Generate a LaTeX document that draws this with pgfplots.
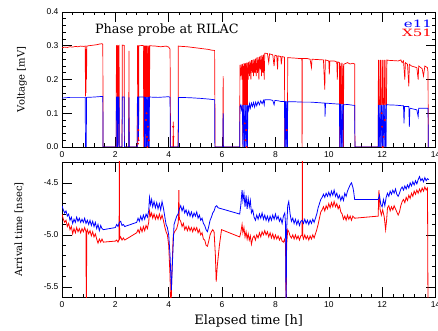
\documentclass[border=0pt]{standalone}
\usepackage{pgfplots}
\usepackage{pgfplotstable}
\pgfplotsset{compat=1.18}
\usepackage{fontspec}
\setmainfont{Liberation Sans}
\newfontfamily\cour{DejaVu Serif}

\pgfplotstableread{
t v
0 0.294
0.1 0.296
0.2 0.295
0.3 0.297
0.4 0.296
0.5 0.298
0.6 0.297
0.7 0.299
0.8 0.298
0.87 0.299
0.88 0.15
0.89 0.26
0.90 0.16
0.91 0.29
0.92 0.20
0.93 0.299
1.0 0.300
1.1 0.301
1.2 0.302
1.3 0.303
1.4 0.305
1.5 0.306
1.53 0.304
1.54 0
2.03 0
2.04 0.300
2.07 0.301
2.08 0
2.10 0
2.11 0.299
2.14 0.301
2.15 0
2.25 0
2.26 0.302
2.33 0.301
2.34 0
2.50 0
2.51 0.285
2.52 0
2.82 0
2.83 0.300
2.86 0.300
2.87 0.02
2.88 0.300
3.05 0.301
3.07 0.0
3.09 0.300
3.11 0.0
3.13 0.300
3.15 0.05
3.17 0.300
3.19 0.0
3.21 0.300
3.23 0.02
3.25 0.300
3.27 0.0
3.29 0.300
3.5 0.299
3.7 0.297
3.9 0.299
4.0 0.296
4.05 0.290
4.07 0
4.16 0
4.17 0.075
4.18 0
4.35 0
4.36 0.299
4.5 0.298
4.7 0.297
4.9 0.295
5.1 0.293
5.3 0.291
5.5 0.289
5.6 0.287
5.72 0.286
5.74 0
6.03 0
6.04 0.21
6.05 0
6.66 0
6.67 0.243
6.70 0.21
6.72 0.245
6.75 0.20
6.77 0.246
6.78 0
6.80 0.24
6.82 0
6.84 0.247
6.86 0
6.88 0.248
6.90 0
6.92 0.25
6.94 0
6.96 0.25
6.98 0.20
7.00 0.252
7.03 0.21
7.05 0.255
7.08 0.20
7.10 0.257
7.13 0.22
7.15 0.258
7.18 0.21
7.20 0.260
7.23 0.22
7.25 0.262
7.28 0.21
7.30 0.265
7.33 0.22
7.35 0.266
7.38 0.20
7.40 0.268
7.43 0.23
7.45 0.270
7.48 0.21
7.50 0.272
7.53 0.22
7.55 0.274
7.58 0.20
7.60 0.278
7.70 0.277
7.75 0.25
7.78 0.276
7.90 0.273
7.95 0.24
7.98 0.272
8.05 0.270
8.08 0.23
8.10 0.270
8.20 0.268
8.22 0.245
8.25 0.268
8.34 0.266
8.35 0
8.45 0
8.46 0.265
8.60 0.264
8.80 0.263
8.90 0.262
8.99 0.262
9.00 0
9.01 0.262
9.20 0.262
9.30 0.260
9.35 0.235
9.37 0.260
9.60 0.259
9.80 0.258
9.85 0.17
9.87 0.258
10.00 0.255
10.02 0.215
10.04 0.255
10.20 0.255
10.30 0.252
10.32 0.20
10.34 0.252
10.40 0.250
10.41 0
10.44 0.24
10.46 0
10.49 0.25
10.51 0
10.54 0.24
10.55 0
10.56 0.245
10.70 0.250
10.80 0.246
10.90 0.248
10.97 0.246
10.98 0
11.85 0
11.86 0.258
11.90 0
11.94 0.258
11.98 0
12.02 0.258
12.06 0
12.10 0.258
12.14 0
12.18 0.258
12.20 0.257
12.40 0.256
12.60 0.255
12.70 0.258
12.75 0.25
12.80 0.255
12.85 0.20
12.87 0.250
12.95 0.245
13.00 0.18
13.02 0.245
13.10 0.240
13.30 0.235
13.35 0.20
13.37 0.240
13.50 0.232
13.55 0.21
13.60 0.240
13.70 0.235
13.72 0.22
13.73 0
}\redV

\pgfplotstableread{
t v
0 0.145
0.3 0.147
0.6 0.147
0.87 0.147
0.88 0
0.91 0
0.92 0.147
1.2 0.148
1.53 0.150
1.54 0
2.03 0
2.04 0.148
2.07 0.148
2.08 0
2.10 0
2.11 0.148
2.14 0.148
2.15 0
2.25 0
2.26 0.148
2.33 0.148
2.34 0
2.50 0
2.51 0.147
2.52 0
2.82 0
2.83 0.148
2.86 0.148
2.87 0.03
2.88 0.148
3.08 0.148
3.09 0
3.12 0.148
3.14 0
3.16 0.148
3.18 0
3.20 0.148
3.22 0
3.24 0.148
3.26 0
3.28 0.148
3.6 0.147
4.0 0.149
4.05 0.147
4.06 0
4.36 0
4.37 0.147
4.8 0.146
5.2 0.144
5.5 0.142
5.72 0.140
5.73 0
6.03 0
6.04 0.10
6.05 0
6.66 0
6.67 0.120
6.70 0.125
6.73 0.110
6.76 0.125
6.78 0
6.81 0.125
6.84 0
6.87 0.125
6.90 0
6.93 0.125
6.95 0
6.97 0.125
7.00 0.110
7.03 0.128
7.06 0.115
7.10 0.130
7.14 0.120
7.18 0.132
7.22 0.118
7.26 0.133
7.30 0.122
7.35 0.135
7.40 0.125
7.45 0.137
7.50 0.128
7.55 0.138
7.58 0.125
7.60 0.140
7.80 0.140
7.90 0.138
7.95 0.125
7.98 0.138
8.10 0.137
8.20 0.135
8.34 0.135
8.35 0
8.38 0.135
8.40 0
8.43 0.135
8.45 0
8.46 0.134
8.70 0.134
9.00 0.133
9.30 0.133
9.50 0.132
9.85 0.130
9.86 0.09
9.88 0.130
10.20 0.128
10.40 0.127
10.41 0
10.44 0.127
10.47 0
10.50 0.126
10.53 0
10.55 0.125
10.70 0.126
10.97 0.123
10.98 0
11.85 0
11.86 0.125
11.89 0
11.92 0.125
11.95 0
11.98 0.125
12.01 0
12.04 0.125
12.07 0
12.10 0.125
12.13 0
12.16 0.125
12.20 0.125
12.50 0.124
12.80 0.122
12.82 0.07
12.84 0.120
13.00 0.120
13.02 0.06
13.04 0.115
13.30 0.110
13.35 0.09
13.37 0.115
13.60 0.115
13.72 0.115
13.73 0
}\blueV

\pgfplotstableread{
t a
0.00 -4.72
0.05 -4.76
0.10 -4.79
0.15 -4.77
0.20 -4.82
0.25 -4.80
0.30 -4.86
0.35 -4.83
0.40 -4.89
0.45 -4.85
0.50 -4.88
0.55 -4.83
0.60 -4.87
0.65 -4.84
0.70 -4.88
0.75 -4.85
0.80 -4.88
0.85 -4.84
0.90 -4.89
0.95 -4.86
1.00 -4.90
1.05 -4.86
1.10 -4.91
1.15 -4.87
1.20 -4.92
1.25 -4.88
1.30 -4.94
1.35 -4.90
1.40 -4.96
1.45 -4.91
1.50 -4.94
1.55 -4.95
2.00 -4.93
2.05 -4.90
2.10 -4.92
2.15 -4.88
2.20 -4.87
2.25 -4.91
2.30 -4.90
2.35 -4.92
2.80 -4.88
2.85 -4.84
2.90 -4.87
2.95 -4.82
3.00 -4.86
3.05 -4.81
3.10 -4.85
3.15 -4.80
3.20 -4.83
3.25 -4.77
3.28 -4.64
3.32 -4.71
3.36 -4.66
3.40 -4.73
3.45 -4.68
3.50 -4.74
3.55 -4.69
3.60 -4.75
3.65 -4.70
3.70 -4.76
3.75 -4.68
3.80 -4.74
3.85 -4.82
3.90 -4.90
3.95 -4.93
4.00 -5.00
4.05 -5.20
4.10 -5.53
4.15 -5.20
4.20 -4.90
4.25 -4.86
4.30 -4.82
4.35 -4.80
4.40 -4.75
4.45 -4.72
4.50 -4.77
4.55 -4.73
4.60 -4.79
4.65 -4.76
4.70 -4.81
4.75 -4.77
4.80 -4.82
4.85 -4.78
4.90 -4.83
4.95 -4.79
5.00 -4.82
5.05 -4.78
5.10 -4.84
5.15 -4.81
5.20 -4.86
5.25 -4.84
5.30 -4.89
5.35 -4.91
5.40 -4.95
5.45 -4.97
5.50 -4.92
5.55 -4.86
5.60 -4.83
5.65 -4.79
5.70 -4.77
5.75 -4.73
5.80 -4.72
5.85 -4.74
6.66 -4.80
6.70 -4.72
6.75 -4.57
6.78 -4.67
6.82 -4.60
6.86 -4.73
6.90 -4.62
6.94 -4.75
6.98 -4.65
7.02 -4.73
7.06 -4.67
7.10 -4.79
7.15 -4.76
7.20 -4.83
7.25 -4.86
7.30 -4.81
7.35 -4.85
7.40 -4.80
7.45 -4.84
7.50 -4.79
7.55 -4.85
7.60 -4.81
7.65 -4.86
7.70 -4.82
7.75 -4.87
7.80 -4.82
7.85 -4.86
7.90 -4.81
7.95 -4.85
8.00 -4.80
8.05 -4.85
8.10 -4.82
8.15 -4.87
8.20 -4.84
8.25 -4.89
8.30 -4.82
8.35 -4.79
8.38 -4.90
8.40 -5.80
8.42 -4.95
8.46 -4.72
8.50 -4.68
8.55 -4.80
8.60 -4.87
8.65 -4.84
8.70 -4.89
8.75 -4.85
8.80 -4.90
8.85 -4.86
8.90 -4.91
8.95 -4.87
9.00 -4.86
9.05 -4.89
9.10 -4.85
9.15 -4.89
9.20 -4.86
9.25 -4.90
9.30 -4.86
9.35 -4.89
9.40 -4.85
9.45 -4.88
9.50 -4.84
9.55 -4.80
9.60 -4.74
9.65 -4.70
9.70 -4.66
9.75 -4.64
9.80 -4.61
9.85 -4.64
9.90 -4.60
9.95 -4.63
10.00 -4.59
10.05 -4.63
10.10 -4.58
10.15 -4.62
10.20 -4.57
10.25 -4.63
10.30 -4.60
10.35 -4.65
10.40 -4.62
10.45 -4.67
10.50 -4.63
10.55 -4.67
10.60 -4.60
10.65 -4.63
10.70 -4.58
10.75 -4.55
10.80 -4.52
10.85 -4.50
10.90 -4.54
10.93 -4.58
10.97 -4.66
11.85 -4.66
11.90 -4.62
11.95 -4.71
12.00 -4.73
12.05 -4.66
12.10 -4.72
12.15 -4.64
12.20 -4.60
12.25 -4.63
12.30 -4.58
12.35 -4.61
12.40 -4.57
12.45 -4.60
12.50 -4.56
12.55 -4.61
12.60 -4.63
12.65 -4.60
12.70 -4.56
12.75 -4.54
12.80 -4.57
12.85 -4.53
12.90 -4.56
12.95 -4.52
13.00 -4.55
13.05 -4.50
13.10 -4.53
13.15 -4.49
13.20 -4.52
13.25 -4.48
13.30 -4.51
13.35 -4.47
13.40 -4.44
13.45 -4.48
13.50 -4.46
13.55 -4.49
13.60 -4.45
13.65 -4.48
13.70 -4.46
13.75 -4.47
}\blueA

\pgfplotstableread{
t a
0.00 -4.80
0.05 -4.85
0.10 -4.88
0.15 -4.86
0.20 -4.92
0.25 -4.89
0.30 -4.95
0.35 -4.92
0.40 -4.99
0.45 -4.94
0.50 -4.98
0.55 -4.93
0.60 -4.97
0.65 -4.94
0.70 -4.98
0.75 -4.94
0.80 -4.97
0.85 -4.93
0.90 -4.97
0.91 -5.80
0.93 -4.97
0.95 -4.95
1.00 -4.99
1.05 -4.96
1.10 -5.01
1.15 -4.97
1.20 -5.02
1.25 -4.99
1.30 -5.04
1.35 -5.08
1.40 -5.04
1.45 -5.07
1.50 -5.04
1.55 -5.07
2.00 -5.06
2.05 -5.05
2.10 -5.07
2.14 -5.04
2.15 -4.00
2.16 -5.04
2.20 -5.02
2.25 -5.05
2.30 -5.03
2.35 -5.05
2.80 -4.98
2.85 -4.95
2.90 -4.98
2.95 -4.93
3.00 -4.97
3.05 -4.92
3.10 -4.96
3.15 -4.91
3.20 -4.94
3.25 -4.88
3.28 -4.77
3.32 -4.82
3.36 -4.79
3.40 -4.84
3.45 -4.80
3.50 -4.85
3.55 -4.81
3.60 -4.85
3.65 -4.80
3.70 -4.85
3.75 -4.81
3.80 -4.86
3.85 -4.92
3.90 -4.97
3.95 -5.00
4.00 -5.10
4.05 -5.40
4.08 -5.80
4.12 -5.35
4.17 -5.00
4.22 -4.97
4.30 -4.94
4.36 -4.88
4.38 -4.57
4.40 -4.85
4.45 -4.87
4.50 -4.92
4.55 -4.89
4.60 -4.95
4.65 -4.92
4.70 -4.96
4.75 -4.92
4.80 -4.96
4.85 -4.93
4.90 -4.97
4.95 -4.93
5.00 -4.96
5.05 -4.93
5.10 -4.98
5.15 -4.95
5.20 -5.00
5.25 -4.98
5.30 -5.04
5.35 -5.05
5.40 -5.10
5.45 -5.11
5.50 -5.06
5.55 -5.00
5.60 -4.97
5.65 -4.95
5.70 -4.97
5.75 -5.20
5.78 -5.45
5.82 -5.30
5.90 -5.10
5.98 -4.95
6.66 -5.02
6.70 -4.98
6.75 -4.90
6.78 -4.98
6.82 -4.93
6.86 -5.02
6.90 -4.97
6.94 -5.04
6.98 -4.99
7.02 -5.05
7.06 -5.01
7.10 -5.09
7.15 -5.03
7.20 -5.01
7.25 -5.05
7.30 -5.00
7.35 -5.03
7.40 -4.98
7.45 -5.02
7.50 -4.97
7.55 -5.00
7.60 -4.96
7.65 -5.00
7.70 -4.97
7.75 -5.02
7.80 -4.98
7.85 -5.03
7.90 -4.99
7.95 -5.04
8.00 -5.00
8.05 -5.04
8.10 -5.01
8.15 -5.05
8.20 -5.02
8.25 -5.06
8.30 -5.07
8.35 -5.04
8.38 -5.10
8.40 -5.80
8.42 -5.10
8.46 -4.95
8.50 -4.97
8.55 -5.01
8.60 -5.03
8.65 -5.00
8.70 -5.04
8.75 -5.00
8.80 -5.04
8.85 -5.01
8.90 -5.05
8.95 -5.01
9.00 -5.00
9.01 -4.00
9.02 -5.01
9.05 -5.04
9.10 -5.00
9.15 -5.04
9.20 -5.01
9.25 -5.05
9.30 -5.01
9.35 -5.04
9.40 -5.00
9.45 -5.03
9.50 -4.99
9.55 -4.95
9.60 -4.90
9.65 -4.84
9.70 -4.78
9.75 -4.76
9.80 -4.73
9.85 -4.77
9.90 -4.72
9.95 -4.75
10.00 -4.70
10.05 -4.74
10.10 -4.69
10.15 -4.73
10.20 -4.68
10.25 -4.73
10.30 -4.70
10.35 -4.75
10.40 -4.72
10.45 -4.78
10.50 -4.80
10.55 -4.85
10.60 -4.82
10.65 -4.86
10.70 -4.81
10.75 -4.85
10.80 -4.82
10.85 -4.86
10.90 -4.82
10.97 -4.84
11.85 -4.82
11.88 -4.57
11.92 -4.75
11.97 -4.81
12.02 -4.76
12.08 -4.83
12.13 -4.95
12.17 -4.85
12.20 -4.74
12.25 -4.72
12.30 -4.77
12.35 -4.73
12.40 -4.76
12.45 -4.72
12.50 -4.75
12.55 -4.78
12.60 -4.81
12.65 -4.78
12.70 -4.72
12.75 -4.68
12.80 -4.66
12.85 -4.69
12.90 -4.64
12.95 -4.67
13.00 -4.62
13.05 -4.65
13.10 -4.60
13.15 -4.63
13.20 -4.58
13.25 -4.61
13.30 -4.57
13.35 -4.60
13.40 -4.56
13.45 -4.59
13.50 -4.55
13.55 -4.58
13.60 -4.54
13.65 -4.57
13.70 -4.55
13.72 -5.80
}\redA

\pgfplotsset{
  panel/.style={
    scale only axis, width=373.5pt, anchor=south west,
    xmin=0, xmax=14, xtick={0,2,...,14}, minor x tick num=4, minor y tick num=4,
    major tick length=10pt, minor tick length=3.5pt,
    tick align=inside, xtick pos=both, ytick pos=both,
    axis line style={line width=0.6pt}, tick style={black, line width=0.5pt},
    /pgf/number format/assume math mode=true,
    tick label style={font=\fontsize{8.5}{10}\selectfont},
    xticklabel style={yshift=-1pt},
    yticklabel style={/pgf/number format/fixed, /pgf/number format/fixed zerofill, /pgf/number format/precision=1},
  },
}

\begin{document}
\begin{tikzpicture}
\path[use as bounding box] (0,0) rectangle (438pt,331pt);
\begin{axis}[panel, at={(62pt,184pt)}, height=135pt,
  ymin=0, ymax=0.4, ytick={0,0.1,0.2,0.3,0.4},
  ylabel={Voltage [mV]},
  every axis y label/.style={at={(rel axis cs:0,0.5)}, xshift=-40pt, rotate=90, anchor=center,
    font=\cour\fontsize{10}{11}\selectfont},
]
\addplot[draw=none, fill=red!35] coordinates {(3.05,0.3) (3.28,0.3)} \closedcycle;
\addplot[draw=none, fill=red!35] coordinates {(6.78,0.25) (6.96,0.25)} \closedcycle;
\addplot[draw=none, fill=red!35] coordinates {(10.40,0.25) (10.55,0.25)} \closedcycle;
\addplot[draw=none, fill=red!35] coordinates {(11.85,0.258) (12.2,0.258)} \closedcycle;
\addplot[red, line width=0.7pt] table[x=t, y=v] {\redV};
\addplot[draw=none, fill=blue!45] coordinates {(3.08,0.148) (3.28,0.148)} \closedcycle;
\addplot[draw=none, fill=blue!45] coordinates {(6.78,0.125) (6.96,0.125)} \closedcycle;
\addplot[draw=none, fill=blue!45] coordinates {(8.35,0.135) (8.45,0.135)} \closedcycle;
\addplot[draw=none, fill=blue!45] coordinates {(10.41,0.127) (10.55,0.127)} \closedcycle;
\addplot[draw=none, fill=blue!45] coordinates {(11.86,0.125) (12.18,0.125)} \closedcycle;
\addplot[blue, line width=0.7pt] table[x=t, y=v] {\blueV};
\addplot[only marks, red, mark=*, mark size=0.8pt] coordinates {
 (2.85,0.01) (2.86,0.05) (2.87,0.02) (3.15,0.08) (3.17,0.10) (3.18,0.03) (3.20,0.0)
 (3.22,0.06) (3.25,0.02) (4.17,0.06) (4.18,0.03) (6.85,0.07) (6.88,0.02) (6.90,0.05)
 (6.92,0.0) (8.42,0.05) (11.98,0.10) (12.00,0.06) (12.02,0.0) (12.05,0.03) (12.10,0.08)};
\node[anchor=west, inner sep=0pt, font=\cour\fontsize{12.8}{14}\selectfont] at (rel axis cs:0.088,0.869) {Phase probe at RILAC};
\node[anchor=east, inner sep=0pt, xscale=1.5, blue, font=\cour\fontsize{10}{11}\selectfont] at (rel axis cs:0.991,0.915) {e11};
\node[anchor=east, inner sep=0pt, xscale=1.5, red, font=\cour\fontsize{10}{11}\selectfont] at (rel axis cs:0.991,0.845) {X51};
\end{axis}
\begin{axis}[panel, at={(62pt,33.7pt)}, height=135.3pt,
  ymin=-5.6, ymax=-4.3, ytick={-5.5,-5,-4.5},
  ylabel={Arrival time [nsec]}, xlabel={Elapsed time [h]},
  every axis y label/.style={at={(rel axis cs:0,0.5)}, xshift=-43pt, rotate=90, anchor=center,
    font=\cour\fontsize{10}{11}\selectfont},
  every axis x label/.style={at={(rel axis cs:0.5,0)}, yshift=-23.5pt, anchor=center,
    font=\cour\fontsize{13}{14}\selectfont},
]
\addplot[red, line width=0.8pt] table[x=t, y=a] {\redA};
\addplot[blue, line width=0.8pt] table[x=t, y=a] {\blueA};
\end{axis}
\end{tikzpicture}
\end{document}
